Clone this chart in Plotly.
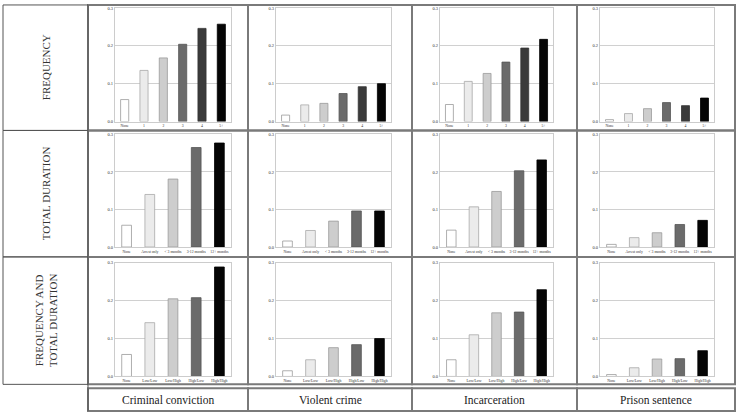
import plotly.graph_objects as go

W, H = 737, 416

outcomes = ["Criminal conviction", "Violent crime", "Incarceration", "Prison sentence"]
row_titles = ["FREQUENCY", "TOTAL DURATION", "FREQUENCY AND<br>TOTAL DURATION"]

freq_labels = ["None", "1", "2", "3", "4", "5+"]
dur_labels = ["None", "Arrest only", "< 3 months", "3-12 months", "12+ months"]
fd_labels = ["None", "Low/Low", "Low/High", "High/Low", "High/High"]

freq_conviction = [0.058, 0.135, 0.168, 0.204, 0.246, 0.257]
freq_violent = [0.017, 0.044, 0.048, 0.074, 0.092, 0.100]
freq_incarceration = [0.045, 0.106, 0.127, 0.157, 0.194, 0.217]
freq_prison = [0.005, 0.021, 0.034, 0.050, 0.042, 0.062]

dur_conviction = [0.058, 0.140, 0.181, 0.265, 0.277]
dur_violent = [0.016, 0.044, 0.069, 0.096, 0.096]
dur_incarceration = [0.045, 0.107, 0.148, 0.203, 0.232]
dur_prison = [0.007, 0.025, 0.038, 0.060, 0.071]

fd_conviction = [0.058, 0.142, 0.205, 0.208, 0.289]
fd_violent = [0.015, 0.044, 0.076, 0.084, 0.100]
fd_incarceration = [0.044, 0.110, 0.168, 0.170, 0.229]
fd_prison = [0.005, 0.023, 0.046, 0.047, 0.068]

y_ticks = [0.0, 0.1, 0.2, 0.3]

colors6 = ["#ffffff", "#ebebeb", "#cdcdcd", "#6b6b6b", "#3a3a3a", "#050505"]
lines6 = ["#9a9a9a", "#a8a8a8", "#9a9a9a", "#555555", "#333333", "#000000"]
colors5 = ["#ffffff", "#ebebeb", "#cdcdcd", "#6b6b6b", "#050505"]
lines5 = ["#9a9a9a", "#a8a8a8", "#9a9a9a", "#555555", "#000000"]

rows = [
    (freq_labels, [freq_conviction, freq_violent, freq_incarceration, freq_prison], colors6, lines6),
    (dur_labels, [dur_conviction, dur_violent, dur_incarceration, dur_prison], colors5, lines5),
    (fd_labels, [fd_conviction, fd_violent, fd_incarceration, fd_prison], colors5, lines5),
]

# pixel geometry
col_plot_x = [(115, 231), (276, 391), (440, 553), (600, 714)]
row_plot_y = [(6, 121), (134, 248), (264, 379)]
col_cells = [88, 248, 412, 577, 735]
row_cells = [3, 130, 258, 387]


def px(x):
    return x / W


def py(y):
    return 1 - y / H


fig = go.Figure()
font_ytick = dict(family="Liberation Serif, serif", size=4.5, color="#333333")
font_xtick = dict(family="Liberation Serif, serif", size=3.8, color="#333333")

k = 0
for r, (labels, series, cols, lcols) in enumerate(rows):
    for c in range(4):
        k += 1
        xa = "x" if k == 1 else f"x{k}"
        ya = "y" if k == 1 else f"y{k}"
        fig.add_trace(go.Bar(
            x=labels, y=series[c], xaxis=xa, yaxis=ya,
            marker=dict(color=cols, line=dict(color=lcols, width=0.8)),
            showlegend=False, hoverinfo="x+y",
        ))
        x0, x1 = col_plot_x[c]
        y0, y1 = row_plot_y[r]
        xkey = "xaxis" if k == 1 else f"xaxis{k}"
        ykey = "yaxis" if k == 1 else f"yaxis{k}"
        fig.layout[xkey] = dict(
            domain=[px(x0), px(x1)], anchor=ya, type="category",
            showline=True, linecolor="#cccccc", linewidth=1, mirror=True,
            showgrid=False, ticks="", tickfont=font_xtick, ticklen=0,
            tickangle=0, fixedrange=True,
        )
        fig.layout[ykey] = dict(
            domain=[py(y1), py(y0)], anchor=xa, range=[0, 0.3],
            tickvals=y_ticks, tickformat=".1f",
            showline=True, linecolor="#cccccc", linewidth=1, mirror=True,
            showgrid=True, gridcolor="#d0d0d0", gridwidth=1,
            zeroline=False, tickfont=font_ytick, ticks="", fixedrange=True,
        )

shapes = []
# panel cells
for r in range(3):
    for c in range(4):
        shapes.append(dict(type="rect", xref="paper", yref="paper",
                           x0=px(col_cells[c]), x1=px(col_cells[c + 1]),
                           y0=py(row_cells[r + 1]), y1=py(row_cells[r]),
                           line=dict(color="#7a7a7a", width=2), layer="below"))
# bottom label cells
for c in range(4):
    shapes.append(dict(type="rect", xref="paper", yref="paper",
                       x0=px(col_cells[c]), x1=px(col_cells[c + 1]),
                       y0=py(414), y1=py(391),
                       line=dict(color="#7a7a7a", width=2), layer="below"))
# left label cells
for r in range(3):
    shapes.append(dict(type="rect", xref="paper", yref="paper",
                       x0=px(3), x1=px(88),
                       y0=py(row_cells[r + 1]), y1=py(row_cells[r]),
                       line=dict(color="#555555", width=1), layer="below"))
shapes.append(dict(type="line", xref="paper", yref="paper",
                   x0=px(88), x1=px(88), y0=py(387), y1=py(414),
                   line=dict(color="#555555", width=1)))

annotations = []
for r, t in enumerate(row_titles):
    annotations.append(dict(
        text=t, xref="paper", yref="paper",
        x=px(45.5), y=py((row_cells[r] + row_cells[r + 1]) / 2),
        xanchor="center", yanchor="middle",
        showarrow=False, textangle=-90, align="center",
        font=dict(family="Liberation Serif, serif", size=11, color="#333333"),
    ))
for c, t in enumerate(outcomes):
    annotations.append(dict(
        text=t, xref="paper", yref="paper",
        x=px((col_cells[c] + col_cells[c + 1]) / 2), y=py(402.5),
        xanchor="center", yanchor="middle",
        showarrow=False,
        font=dict(family="Liberation Serif, serif", size=11.5, color="#222222"),
    ))

fig.update_layout(
    width=W, height=H, margin=dict(l=0, r=0, t=0, b=0),
    paper_bgcolor="white", plot_bgcolor="white",
    bargap=0.58, shapes=shapes, annotations=annotations,
)

fig.write_html("out.html", post_script="document.body.style.margin='0';",
               config={"displayModeBar": False})
